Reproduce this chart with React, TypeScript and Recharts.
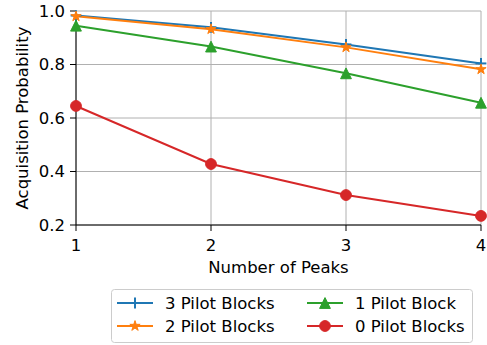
import React from 'react';
import { LineChart, Line, XAxis, YAxis, CartesianGrid, Legend } from 'recharts';

const peaks = [1, 2, 3, 4];
const pilot3 = [0.983, 0.939, 0.875, 0.804];
const pilot2 = [0.980, 0.932, 0.864, 0.782];
const pilot1 = [0.945, 0.867, 0.767, 0.657];
const pilot0 = [0.645, 0.428, 0.312, 0.234];
const xTicks = [1, 2, 3, 4];
const yTicks = [0.2, 0.4, 0.6, 0.8, 1.0];

const data = peaks.map((p, i) => ({
  peaks: p,
  p3: pilot3[i],
  p2: pilot2[i],
  p1: pilot1[i],
  p0: pilot0[i],
}));

const BLUE = '#1f77b4';
const ORANGE = '#ff7f0e';
const GREEN = '#2ca02c';
const RED = '#d62728';
const FONT = '"DejaVu Sans", sans-serif';
const FS = 16.5;

type MarkerKind = 'plus' | 'star' | 'tri' | 'circle';

function Marker({ kind, cx, cy, color }: { kind: MarkerKind; cx: number; cy: number; color: string }) {
  const s = 5.4;
  if (kind === 'plus') {
    return (
      <g>
        <line x1={cx - s} y1={cy} x2={cx + s} y2={cy} stroke={color} strokeWidth={2} />
        <line x1={cx} y1={cy - s} x2={cx} y2={cy + s} stroke={color} strokeWidth={2} />
      </g>
    );
  }
  if (kind === 'circle') {
    return <circle cx={cx} cy={cy} r={s} fill={color} stroke={color} strokeWidth={1} />;
  }
  if (kind === 'tri') {
    const pts = `${cx},${cy - s} ${cx - s},${cy + s} ${cx + s},${cy + s}`;
    return <polygon points={pts} fill={color} stroke={color} strokeWidth={1} />;
  }
  const inner = s * 0.381966;
  const pts: string[] = [];
  for (let i = 0; i < 10; i++) {
    const r = i % 2 === 0 ? s : inner;
    const a = (Math.PI / 5) * i;
    pts.push(`${cx + r * Math.sin(a)},${cy - r * Math.cos(a)}`);
  }
  return <polygon points={pts.join(' ')} fill={color} stroke={color} strokeWidth={1} strokeLinejoin="miter" />;
}

const makeDot = (kind: MarkerKind, color: string) => (props: any) => {
  const { cx, cy, index } = props;
  if (cx == null || cy == null) return <g key={`d-${kind}-${index}`} />;
  return (
    <g key={`d-${kind}-${index}`}>
      <Marker kind={kind} cx={cx} cy={cy} color={color} />
    </g>
  );
};

const legendItems: { label: string; color: string; kind: MarkerKind }[] = [
  { label: '3 Pilot Blocks', color: BLUE, kind: 'plus' },
  { label: '1 Pilot Block', color: GREEN, kind: 'tri' },
  { label: '2 Pilot Blocks', color: ORANGE, kind: 'star' },
  { label: '0 Pilot Blocks', color: RED, kind: 'circle' },
];

const LegendBox = () => {
  const w = 362;
  const h = 54;
  return (
    <svg width={w} height={h} style={{ display: 'block' }}>
      <rect x={0.5} y={0.5} width={w - 1} height={h - 1} rx={3} fill="#ffffff" stroke="#cccccc" strokeWidth={1} />
      {legendItems.map((it, i) => {
        const col = i % 2;
        const row = Math.floor(i / 2);
        const lx = col === 0 ? 6 : 196;
        const ly = row === 0 ? 14 : 37;
        return (
          <g key={it.label}>
            <line x1={lx} y1={ly} x2={lx + 36} y2={ly} stroke={it.color} strokeWidth={2} />
            <Marker kind={it.kind} cx={lx + 18} cy={ly} color={it.color} />
            <text x={lx + 48} y={ly + 6} fontFamily={FONT} fontSize={FS} fill="#000000">
              {it.label}
            </text>
          </g>
        );
      })}
    </svg>
  );
};

export default function App() {
  return (
    <div style={{ position: 'absolute', left: 0, top: 0, width: 487, height: 345, background: '#ffffff' }}>
      <LineChart
        width={487}
        height={345}
        data={data}
        margin={{ top: 11, right: 6, bottom: 60, left: 0 }}
        style={{ fontFamily: FONT }}
      >
        <CartesianGrid stroke="#b0b0b0" strokeWidth={1} />
        <XAxis
          dataKey="peaks"
          type="number"
          domain={[1, 4]}
          ticks={xTicks}
          height={60}
          tickSize={6}
          tickMargin={8}
          tickLine={{ stroke: '#000000', strokeWidth: 1 }}
          axisLine={{ stroke: '#000000', strokeWidth: 1 }}
          tick={{ fill: '#000000', fontSize: FS, fontFamily: FONT }}
          label={{
            content: (p: any) => {
              const vb = p.viewBox;
              return (
                <text x={vb.x + vb.width / 2} y={vb.y + 48} textAnchor="middle" fontFamily={FONT} fontSize={FS} fill="#000000">
                  Number of Peaks
                </text>
              );
            },
          }}
        />
        <XAxis
          xAxisId="top"
          orientation="top"
          type="number"
          dataKey="peaks"
          domain={[1, 4]}
          height={0}
          tick={false}
          tickLine={false}
          axisLine={{ stroke: '#000000', strokeWidth: 1 }}
        />
        <YAxis
          type="number"
          domain={[0.2, 1.0]}
          ticks={yTicks}
          width={76}
          tickSize={6}
          tickMargin={5}
          tickFormatter={(v: number) => v.toFixed(1)}
          tickLine={{ stroke: '#000000', strokeWidth: 1 }}
          axisLine={{ stroke: '#000000', strokeWidth: 1 }}
          tick={{ fill: '#000000', fontSize: FS, fontFamily: FONT }}
          label={{
            content: (p: any) => {
              const vb = p.viewBox;
              const x = vb.x + 28;
              const y = vb.y + vb.height / 2;
              return (
                <text x={x} y={y} transform={`rotate(-90, ${x}, ${y})`} textAnchor="middle" fontFamily={FONT} fontSize={FS} fill="#000000">
                  Acquisition Probability
                </text>
              );
            },
          }}
        />
        <YAxis
          yAxisId="right"
          orientation="right"
          type="number"
          domain={[0.2, 1.0]}
          width={0}
          tick={false}
          tickLine={false}
          axisLine={{ stroke: '#000000', strokeWidth: 1 }}
        />
        <Line dataKey="p3" stroke={BLUE} strokeWidth={2} dot={makeDot('plus', BLUE)} isAnimationActive={false} />
        <Line dataKey="p2" stroke={ORANGE} strokeWidth={2} dot={makeDot('star', ORANGE)} isAnimationActive={false} />
        <Line dataKey="p1" stroke={GREEN} strokeWidth={2} dot={makeDot('tri', GREEN)} isAnimationActive={false} />
        <Line dataKey="p0" stroke={RED} strokeWidth={2} dot={makeDot('circle', RED)} isAnimationActive={false} />
        <Legend
          layout="horizontal"
          verticalAlign="middle"
          align="center"
          wrapperStyle={{ position: 'absolute', left: 111, top: 289, width: 362, height: 54 }}
          content={() => <LegendBox />}
        />
      </LineChart>
    </div>
  );
}
